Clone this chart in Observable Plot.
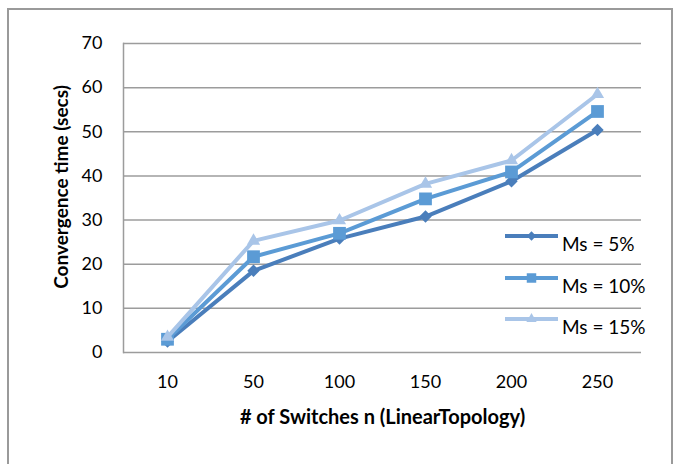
<!DOCTYPE html>
<html>
<head>
<meta charset="utf-8">
<script src="https://cdn.jsdelivr.net/npm/d3@7"></script>
<script src="https://cdn.jsdelivr.net/npm/@observablehq/plot@0.6"></script>
<style>
  html, body { margin: 0; padding: 0; background: #fff; }
  body { width: 676px; height: 464px; overflow: hidden; position: relative; font-family: Lato, "Open Sans", sans-serif; }
  #border { position: absolute; left: 7px; top: 8px; width: 666px; height: 480px; border: 2px solid #9a9a9a; box-sizing: border-box; }
  #chart { position: absolute; left: 0; top: 0; }
  #legend { position: absolute; left: 0; top: 0; }
  .item { position: absolute; display: flex; align-items: flex-start; white-space: nowrap; }
  .item span { font-size: 19px; color: #000; line-height: 1; }
</style>
</head>
<body>
<div id="border"></div>
<div id="chart"></div>
<div id="legend"></div>
<script>
// Data
const switches = ["10", "50", "100", "150", "200", "250"];
const ms5  = [2.5, 18.5, 25.8, 30.8, 38.8, 50.4];
const ms10 = [3.0, 21.7, 27.0, 34.8, 40.9, 54.6];
const ms15 = [3.5, 25.3, 29.9, 38.2, 43.5, 58.5];
const seriesNames = ["Ms = 5%", "Ms = 10%", "Ms = 15%"];
const seriesValues = [ms5, ms10, ms15];
const seriesColors = ["#4A7EBB", "#5B9BD5", "#A9C5E8"];
const seriesSymbols = ["diamond2", "square", "triangle2"];
const seriesR = [5.6, 7.2, 6.3];
const yTicks = [0, 10, 20, 30, 40, 50, 60, 70];
const xTitle = "# of Switches n (LinearTopology)";
const yTitle = "Convergence time (secs)";

const rows = seriesNames.map((name, i) =>
  switches.map((s, j) => ({series: name, n: s, t: seriesValues[i][j]})));

const marks = [
  Plot.ruleY(yTicks, {stroke: "#9c9c9c", strokeWidth: 1.5}),
  Plot.frame({anchor: "left", stroke: "#9c9c9c", strokeWidth: 1.5}),
  Plot.axisY({ticks: yTicks, tickSize: 0, tickPadding: 21, fontSize: 18, label: null, fill: "#000"}),
  Plot.axisX({tickSize: 0, tickPadding: 23, fontSize: 18, label: null, fill: "#000"}),
  Plot.text([yTitle], {frameAnchor: "left", textAnchor: "middle", rotate: -90, dx: -62, dy: -11, fontSize: 19, fontWeight: "bold", fill: "#000"}),
  Plot.text([xTitle], {frameAnchor: "bottom", dy: 71, fontSize: 20, fontWeight: "bold", fill: "#000"})
];
rows.forEach((data, i) => {
  marks.push(Plot.line(data, {x: "n", y: "t", stroke: seriesColors[i], strokeWidth: 4, strokeLinejoin: "round"}));
  marks.push(Plot.dot(data, {x: "n", y: "t", symbol: () => seriesSymbols[i], fill: seriesColors[i], stroke: "none", r: seriesR[i]}));
});

const chart = Plot.plot({
  width: 676,
  height: 464,
  marginLeft: 123,
  marginRight: 35,
  marginTop: 43,
  marginBottom: 112,
  style: {fontFamily: "Lato, 'Open Sans', sans-serif", background: "transparent", color: "#000"},
  x: {type: "point", domain: switches, padding: 0.5, label: null},
  y: {domain: [0, 70], label: null},
  symbol: {type: "identity"},
  marks
});
document.getElementById("chart").appendChild(chart);

// Legend
const legendTop = [228, 270, 311];
const legend = d3.select("#legend");
seriesNames.forEach((name, i) => {
  const item = legend.append("div").attr("class", "item")
    .style("left", "505px").style("top", legendTop[i] + "px");
  const svg = item.append("svg").attr("width", 57).attr("height", 18);
  svg.append("line").attr("x1", 0).attr("x2", 53).attr("y1", 8).attr("y2", 8)
    .attr("stroke", seriesColors[i]).attr("stroke-width", 4);
  const symMap = {diamond2: d3.symbolDiamond2, square: d3.symbolSquare, triangle2: d3.symbolTriangle2};
  const sizes = [55, 90, 75];
  svg.append("path").attr("transform", "translate(26.5,8)")
    .attr("d", d3.symbol(symMap[seriesSymbols[i]], sizes[i])())
    .attr("fill", seriesColors[i]);
  item.append("span").style("margin-top", "6px").text(name);
});
</script>
</body>
</html>
